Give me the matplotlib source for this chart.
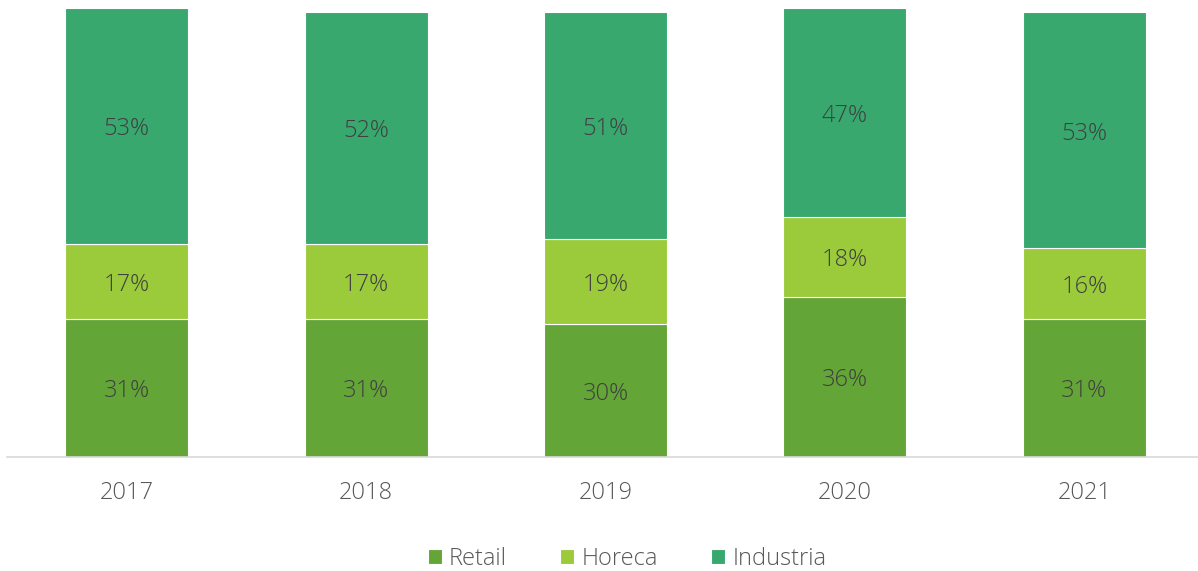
import matplotlib.pyplot as plt
import numpy as np

years = ['2017', '2018', '2019', '2020', '2021']
retail = [31, 31, 30, 36, 31]
horeca = [17, 17, 19, 18, 16]
industria = [53, 52, 51, 47, 53]

colors = ['#63A537', '#9BCB3B', '#38A86F']
text_color = '#404040'
axis_text = '#595959'
plt.rcParams['font.family'] = ['Open Sans', 'DejaVu Sans']

fig = plt.figure(figsize=(11.98, 5.71), dpi=100)
ax = fig.add_axes([7 / 1198, 1 - 457 / 571, (1204 - 7) / 1198, 449 / 571])

x = np.arange(len(years))
bottom = np.zeros(len(years))
for vals, name, c in zip([retail, horeca, industria], ['Retail', 'Horeca', 'Industria'], colors):
    ax.bar(x, vals, width=0.514, bottom=bottom, color=c, edgecolor='white', linewidth=0.8, label=name)
    for xi, b, v in zip(x, bottom, vals):
        ax.text(xi, b + v / 2 - 0.75, f'{v}%', ha='center', va='center', fontsize=17,
                color=text_color, fontweight='light')
    bottom += np.array(vals)

ax.set_xlim(-0.5, 4.5)
ax.set_ylim(0, 101)
ax.set_xticks(x)
ax.set_xticklabels(years, fontsize=17, color=axis_text, fontweight='light')
ax.tick_params(axis='x', length=0, pad=17)
ax.set_yticks([])
for s in ['top', 'right', 'left']:
    ax.spines[s].set_visible(False)
ax.spines['bottom'].set_color('#D9D9D9')
ax.spines['bottom'].set_linewidth(1.2)

fig.legend(loc='center', bbox_to_anchor=(627 / 1198, 1 - 559 / 571), ncol=3, frameon=False,
           prop={'size': 17, 'weight': 'light'}, handlelength=0.6, handleheight=0.6,
           handletextpad=0.3, columnspacing=2.25, labelcolor=axis_text)

fig.savefig('out.png', dpi=100)
